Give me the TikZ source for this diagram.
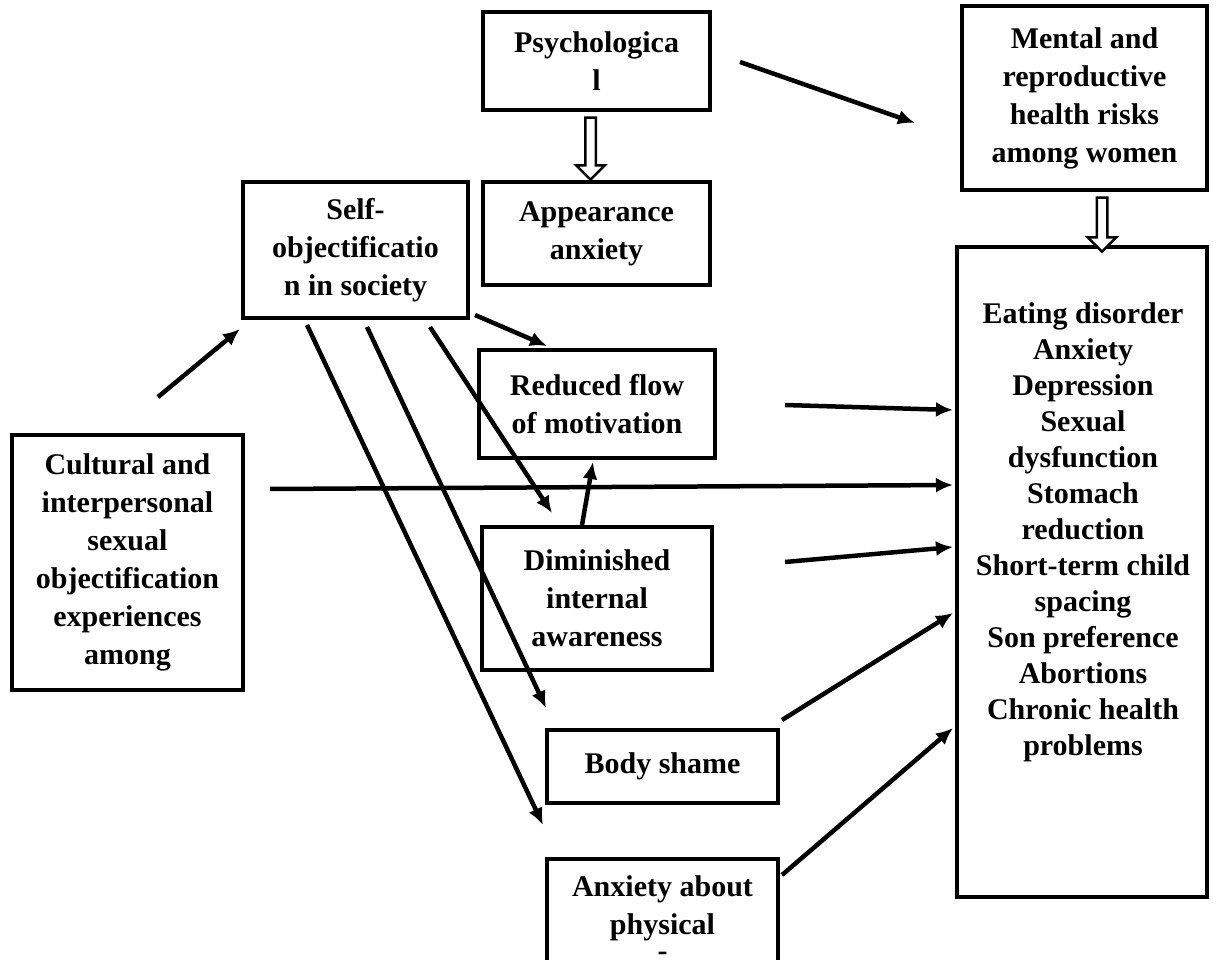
\documentclass[tikz,border=0pt]{standalone}
\usepackage{fontspec}
\setmainfont{Liberation Serif}
\usetikzlibrary{arrows.meta,shapes.arrows,calc}
\begin{document}
\begin{tikzpicture}[x=1pt,y=-1pt,
  box/.style={draw, line width=4pt, inner sep=0pt, align=center,
    font=\fontsize{30}{38}\selectfont\bfseries},
  link/.style={line width=4.5pt, -{Latex[length=17pt,width=15pt]}},
  bigarrow/.style={single arrow, draw, line width=2.5pt, fill=white,
    inner sep=4pt, single arrow head extend=9pt, shape border rotate=270}
]
\fill[white] (0,0) rectangle (1213,960);
\useasboundingbox (0,0) rectangle (1213,960);
\clip (0,0) rectangle (1213,960);

% boxes
\node[box, minimum width=227pt, minimum height=98pt]  (psych)   at (596.5,61)   {Psychologica\\l};
\node[box, minimum width=227pt, minimum height=103pt] (appear)  at (596.5,233.5) {Appearance\\anxiety};
\node[box, minimum width=245pt, minimum height=184pt] (mental)  at (1084.5,98)  {Mental and\\reproductive\\health risks\\among women};
\node[box, minimum width=225pt, minimum height=136pt] (self)    at (355.5,250)  {Self-\\objectificatio\\n in society};
\node[box, minimum width=236pt, minimum height=108pt] (reduced) at (597,404)    {Reduced flow\\of motivation};
\node[box, minimum width=230pt, minimum height=143pt] (dimin)   at (597,598.5)  {Diminished\\internal\\awareness};
\node[box, minimum width=231pt, minimum height=73pt]  (body)    at (662.5,766.5) {Body shame};
\node[box, minimum width=231pt, minimum height=119pt] (anxphys) at (662.5,918.5) {Anxiety about\\physical\\[-12pt]-};
\node[box, minimum width=231pt, minimum height=255pt] (cultural) at (127.5,562.5)
  {Cultural and\\interpersonal\\sexual\\objectification\\experiences\\among};
\node[box, minimum width=250pt, minimum height=650pt] (outcomes) at (1082,572) {};
\node[anchor=north, align=center, inner sep=0pt, font=\fontsize{30}{36}\selectfont\bfseries]
  (outtext) at (1083,302)
  {Eating disorder\\Anxiety\\Depression\\Sexual\\dysfunction\\Stomach\\reduction\\Short-term child\\spacing\\Son preference\\Abortions\\Chronic health\\problems};

% hollow block arrows
\node[bigarrow, minimum height=62pt] (pa) at ($(psych.south)!0.5!(appear.north)+(-6,0)$) {};
\node[bigarrow, minimum height=54pt] (mo) at ($(mental.south)!0.5!(outcomes.north)+(18.75,3.5)$) {};

% free line ends
\coordinate (c1)  at (158,397);
\coordinate (c8)  at (270,489);
\coordinate (c9)  at (785,405);
\coordinate (c10) at (785,562);

% connectors
\draw[link] (c1) -- ($(self.south west)+(-1,9)$);
\draw[link] ($(psych.east)+(28,1)$) -- ($(mental.west)+(-45,25)$);
\draw[link] ($(self.south east)+(5,-5)$) -- ($(reduced.north)+(-50,-2)$);
\draw[link] ($(self.south east)+(-40,7)$) -- ($(dimin.north)+(-45,-12)$);
\draw[link] ($(self.south)+(11.5,7)$) -- ($(body.north west)+(1,-20)$);
\draw[link] ($(self.south)+(-48.5,5)$) -- ($(anxphys.north west)+(-2,-32)$);
\draw[link] ($(dimin.north)+(-15,0)$) -- ($(reduced.south)+(-4,2)$);
\draw[link] (c8) -- ($(outcomes.west)+(-2,-87)$);
\draw[link] (c9) -- ($(outcomes.west)+(-2,-162)$);
\draw[link] (c10) -- ($(outcomes.west)+(-2,-25)$);
\draw[link] ($(body.north east)+(2,-8)$) -- ($(outcomes.west)+(-2,41)$);
\draw[link] ($(anxphys.north east)+(2,18)$) -- ($(outcomes.west)+(-2,156)$);
\end{tikzpicture}
\end{document}
